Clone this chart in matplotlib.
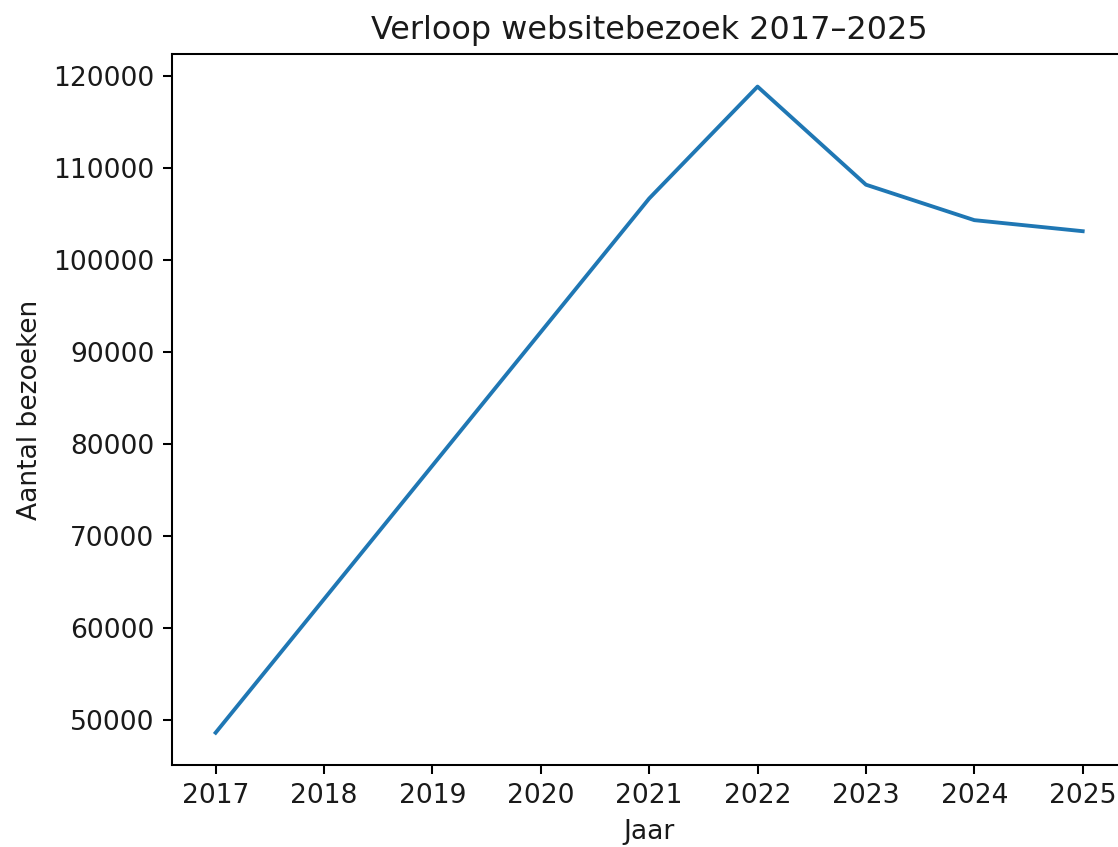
import matplotlib
matplotlib.use("Agg")
import matplotlib.pyplot as plt

jaren = [2017, 2018, 2019, 2020, 2021, 2022, 2023, 2024, 2025]
bezoeken = [48650, 63150, 77650, 92150, 106650, 118800, 108150, 104300, 103100]

dpi = 185
plt.rcParams["font.size"] = 10.3
plt.rcParams["text.color"] = "#1a1a1a"
plt.rcParams["xtick.labelcolor"] = "#1a1a1a"
plt.rcParams["ytick.labelcolor"] = "#1a1a1a"

fig = plt.figure(figsize=(1118 / dpi, 847 / dpi), dpi=dpi)
ax = fig.add_axes([0.1541, 0.0968, 0.8531, 0.8391])

ax.plot(jaren, bezoeken)
ax.set_xticks(jaren)
ax.set_title("Verloop websitebezoek 2017–2025", fontsize=12.4)
ax.set_xlabel("Jaar", color="#1a1a1a")
ax.set_ylabel("Aantal bezoeken", color="#1a1a1a")

fig.savefig("out.png", dpi=dpi)
